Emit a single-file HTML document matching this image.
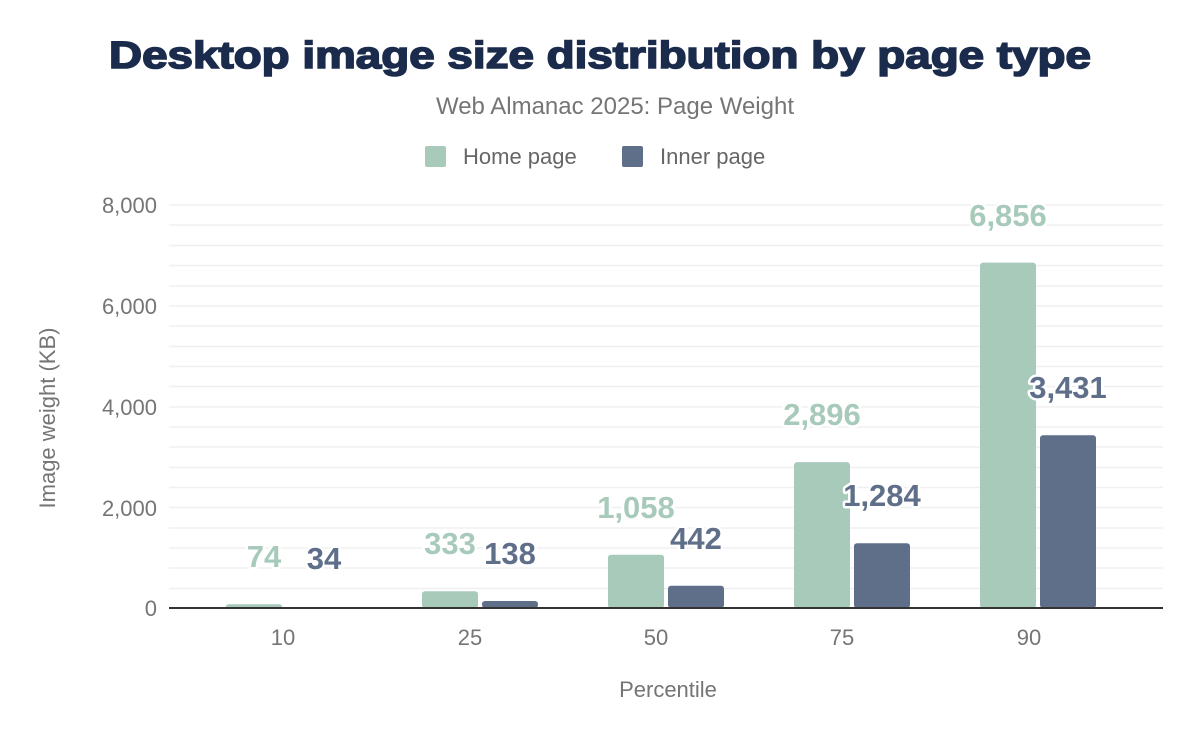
<!DOCTYPE html>
<html><head><meta charset="utf-8"><style>
body{margin:0;background:#fff;}
svg text{font-family:"Liberation Sans",Arial,sans-serif;}
</style></head><body>
<svg width="1200" height="742" viewBox="0 0 1200 742" xmlns="http://www.w3.org/2000/svg">
<text x="600" y="68" text-anchor="middle" font-size="38" font-weight="900" fill="#1a2b4c" stroke="#1a2b4c" stroke-width="1.6" textLength="982" lengthAdjust="spacingAndGlyphs">Desktop image size distribution by page type</text>
<text x="615" y="114" text-anchor="middle" font-size="24" fill="#757575">Web Almanac 2025: Page Weight</text>
<rect x="425" y="146" width="21" height="21" rx="2" fill="#a8cabb"/>
<text x="463" y="164" font-size="22" fill="#666">Home page</text>
<rect x="622" y="146" width="21" height="21" rx="2" fill="#5f6f8a"/>
<text x="660" y="164" font-size="22" fill="#666">Inner page</text>
<g stroke="#f0f0f0" stroke-width="1.5">
<line x1="169" x2="1163" y1="205" y2="205"/><line x1="169" x2="1163" y1="225" y2="225"/><line x1="169" x2="1163" y1="245.5" y2="245.5"/><line x1="169" x2="1163" y1="265.5" y2="265.5"/><line x1="169" x2="1163" y1="286" y2="286"/><line x1="169" x2="1163" y1="306" y2="306"/><line x1="169" x2="1163" y1="326" y2="326"/><line x1="169" x2="1163" y1="346.5" y2="346.5"/><line x1="169" x2="1163" y1="366.5" y2="366.5"/><line x1="169" x2="1163" y1="386.5" y2="386.5"/><line x1="169" x2="1163" y1="407" y2="407"/><line x1="169" x2="1163" y1="427" y2="427"/><line x1="169" x2="1163" y1="447" y2="447"/><line x1="169" x2="1163" y1="467.5" y2="467.5"/><line x1="169" x2="1163" y1="487.5" y2="487.5"/><line x1="169" x2="1163" y1="507.5" y2="507.5"/><line x1="169" x2="1163" y1="528" y2="528"/><line x1="169" x2="1163" y1="548" y2="548"/><line x1="169" x2="1163" y1="568" y2="568"/><line x1="169" x2="1163" y1="588.5" y2="588.5"/>
</g>
<g font-size="22" fill="#757575" text-anchor="end">
<text x="157" y="213">8,000</text><text x="157" y="314">6,000</text><text x="157" y="415">4,000</text><text x="157" y="516">2,000</text><text x="157" y="616">0</text>
</g>
<text transform="translate(55,418) rotate(-90)" text-anchor="middle" font-size="22" fill="#757575">Image weight (KB)</text>
<g fill="#a8cabb">
<rect x="226" y="604.3" width="56" height="3.7" rx="3"/>
<rect x="422" y="591.2" width="56" height="16.8" rx="3"/>
<rect x="608" y="554.7" width="56" height="53.3" rx="3"/>
<rect x="794" y="462.1" width="56" height="145.9" rx="3"/>
<rect x="980" y="262.6" width="56" height="345.4" rx="3"/>
</g>
<g fill="#5f6f8a">
<rect x="482" y="601" width="56" height="7" rx="3"/>
<rect x="668" y="585.7" width="56" height="22.3" rx="3"/>
<rect x="854" y="543.3" width="56" height="64.7" rx="3"/>
<rect x="1040" y="435.2" width="56" height="172.8" rx="3"/>
</g>
<line x1="169" x2="1163" y1="608" y2="608" stroke="#333" stroke-width="2"/>
<g font-size="31" font-weight="bold" text-anchor="middle" stroke="#fff" stroke-width="5" paint-order="stroke" stroke-linejoin="round">
<text x="264" y="567" fill="#a8cabb">74</text>
<text x="450" y="554" fill="#a8cabb">333</text>
<text x="636" y="518" fill="#a8cabb">1,058</text>
<text x="822" y="425" fill="#a8cabb">2,896</text>
<text x="1008" y="226" fill="#a8cabb">6,856</text>
<text x="324" y="569" fill="#5f6f8a">34</text>
<text x="510" y="564" fill="#5f6f8a">138</text>
<text x="696" y="549" fill="#5f6f8a">442</text>
<text x="882" y="506" fill="#5f6f8a">1,284</text>
<text x="1068" y="398" fill="#5f6f8a">3,431</text>
</g>
<g font-size="22" fill="#757575" text-anchor="middle">
<text x="283" y="645">10</text><text x="470" y="645">25</text><text x="656" y="645">50</text><text x="842" y="645">75</text><text x="1029" y="645">90</text>
</g>
<text x="668" y="697" text-anchor="middle" font-size="22" fill="#757575">Percentile</text>
</svg>
</body></html>
